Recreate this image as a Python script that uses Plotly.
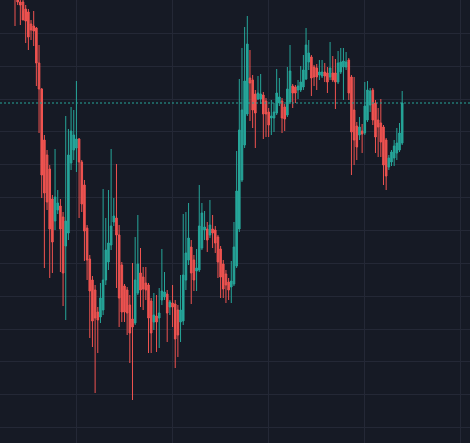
import plotly.graph_objects as go

# Candle index (time) and OHLC prices
candle_index = list(range(146))

opens = [465, 455, 448, 448, 441, 438, 426, 424, 422, 387,
         361, 310, 295, 281, 251, 229, 240, 244, 233, 204,
         217, 287, 300, 302, 311, 288, 265, 222, 191, 170,
         160, 138, 133, 140, 170, 188, 205, 228, 232, 215,
         185, 164, 160, 145, 131, 127, 157, 177, 173, 167,
         165, 149, 128, 134, 132, 150, 153, 156, 143, 147,
         146, 140, 128, 129, 170, 190, 203, 190, 179, 180,
         202, 220, 221, 215, 221, 220, 213, 201, 186, 176,
         168, 163, 166, 184, 221, 270, 305, 336, 372, 370,
         356, 351, 351, 355, 349, 338, 332, 332, 337, 347,
         349, 343, 335, 348, 364, 363, 360, 360, 363, 371,
         388, 393, 383, 382, 375, 374, 378, 377, 373, 377,
         377, 368, 378, 383, 383, 390, 373, 340, 324, 315,
         319, 317, 330, 345, 360, 347, 330, 327, 323, 310,
         283, 288, 292, 297, 300, 307]

highs = [470, 460, 452, 450, 445, 441, 430, 439, 423, 405,
         362, 315, 300, 285, 255, 301, 260, 251, 238, 334,
         321, 343, 340, 369, 312, 290, 270, 225, 195, 174,
         165, 143, 167, 261, 232, 260, 301, 252, 286, 225,
         188, 166, 163, 155, 187, 213, 235, 202, 183, 183,
         167, 152, 157, 155, 162, 201, 178, 160, 150, 165,
         150, 145, 175, 236, 238, 247, 210, 195, 201, 265,
         247, 239, 228, 250, 235, 224, 215, 204, 190, 180,
         172, 189, 228, 299, 371, 402, 423, 434, 400, 375,
         360, 374, 376, 358, 352, 342, 350, 347, 381, 372,
         352, 346, 383, 405, 366, 365, 370, 384, 395, 422,
         410, 395, 385, 386, 390, 390, 387, 383, 408, 394,
         391, 399, 402, 402, 398, 392, 375, 373, 328, 333,
         326, 368, 369, 362, 362, 350, 342, 351, 325, 312,
         295, 300, 310, 322, 327, 359]

lows = [424, 445, 425, 439, 407, 400, 410, 404, 364, 317,
        252, 182, 240, 172, 177, 220, 236, 178, 144, 130,
        210, 280, 290, 278, 232, 238, 189, 170, 112, 103,
        57, 97, 127, 135, 165, 180, 200, 224, 162, 123,
        128, 128, 115, 87, 50, 125, 155, 143, 140, 150,
        97, 97, 120, 98, 102, 145, 150, 108, 135, 123,
        82, 93, 108, 125, 160, 185, 146, 159, 159, 178,
        200, 210, 198, 212, 202, 197, 172, 152, 152, 147,
        150, 147, 164, 182, 218, 268, 302, 334, 329, 322,
        302, 350, 346, 311, 313, 313, 315, 318, 335, 344,
        317, 319, 333, 346, 342, 347, 351, 358, 360, 370,
        380, 354, 364, 360, 370, 372, 368, 357, 370, 368,
        341, 366, 376, 350, 380, 350, 275, 285, 290, 310,
        297, 315, 328, 338, 325, 297, 293, 293, 265, 260,
        280, 284, 284, 290, 298, 305]

closes = [455, 448, 445, 430, 429, 413, 420, 419, 387, 361,
          275, 257, 248, 221, 208, 253, 247, 221, 177, 229,
          295, 319, 315, 311, 288, 246, 219, 190, 159, 129,
          132, 130, 152, 170, 200, 207, 224, 234, 215, 152,
          138, 138, 137, 117, 123, 170, 186, 160, 161, 160,
          132, 117, 135, 128, 137, 159, 158, 137, 148, 143,
          111, 115, 140, 175, 197, 212, 177, 170, 182, 224,
          237, 223, 210, 225, 217, 207, 188, 173, 161, 165,
          160, 169, 203, 259, 320, 340, 369, 406, 367, 340,
          337, 357, 356, 336, 336, 325, 334, 338, 357, 353,
          332, 331, 361, 379, 357, 357, 364, 368, 380, 405,
          397, 372, 373, 373, 378, 378, 374, 368, 382, 370,
          368, 387, 388, 389, 388, 357, 318, 310, 303, 323,
          316, 344, 360, 359, 330, 313, 323, 308, 285, 274,
          292, 298, 304, 307, 317, 347]

UP = "#26A69A"
DOWN = "#EF5350"
BG = "#161A25"
GRID = "#242836"

fig = go.Figure()
fig.add_trace(go.Candlestick(
    x=candle_index, open=opens, high=highs, low=lows, close=closes,
    increasing=dict(line=dict(color=UP, width=1), fillcolor=UP),
    decreasing=dict(line=dict(color=DOWN, width=1), fillcolor=DOWN),
    whiskerwidth=0, showlegend=False, hoverinfo="none",
))

last_close = closes[-1]
fig.add_shape(type="line", xref="paper", x0=0, x1=1, yref="y",
              y0=last_close, y1=last_close,
              line=dict(color=UP, width=1, dash="2px,2px"))

fig.update_layout(
    width=470, height=443,
    margin=dict(l=0, r=0, t=0, b=0),
    paper_bgcolor=BG, plot_bgcolor=BG,
    boxgap=0.15,
    showlegend=False,
    xaxis=dict(range=[-5.62, 170.4], showticklabels=False, showgrid=True,
               gridcolor=GRID, gridwidth=1, tick0=22.85, dtick=36,
               zeroline=False, showline=False, ticks="",
               rangeslider=dict(visible=False)),
    yaxis=dict(range=[7, 450], showticklabels=False, showgrid=True,
               gridcolor=GRID, gridwidth=1, tick0=22.45, dtick=32.85,
               zeroline=False, showline=False, ticks=""),
)

fig.write_html("out.html", config={"displayModeBar": False, "staticPlot": True},
               post_script="document.body.style.margin='0';")
